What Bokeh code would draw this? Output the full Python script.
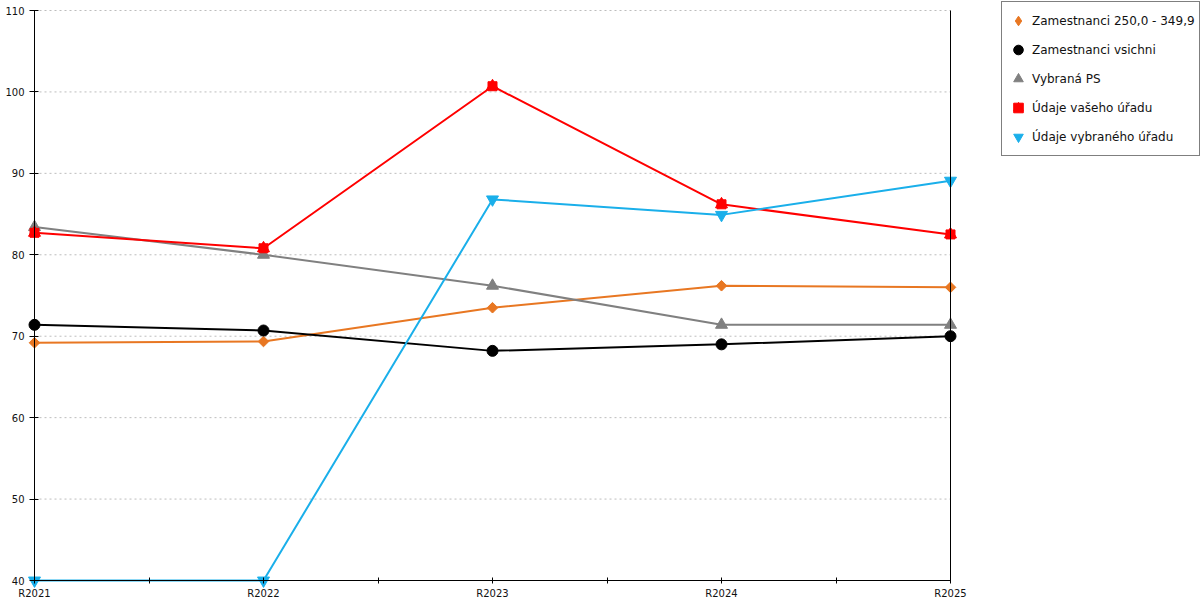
import math
from bokeh.plotting import figure
from bokeh.models import (Range1d, FixedTicker, LinearAxis, Legend, LegendItem,
                          ColumnDataSource)
from bokeh.embed import file_html
from bokeh.resources import INLINE

categories = ["R2021", "R2022", "R2023", "R2024", "R2025"]
zam_250 = [69.2, 69.35, 73.5, 76.2, 76.0]
zam_all = [71.4, 70.7, 68.2, 69.0, 70.0]
vybrana_ps = [83.4, 80.0, 76.2, 71.4, 71.4]
vas_urad = [82.7, 80.8, 100.7, 86.2, 82.5]
vybrany_urad = [40.0, 40.0, 86.8, 84.9, 89.1]

y_ticks = [40, 50, 60, 70, 80, 90, 100, 110]

FONT = "DejaVu Sans"
W, H = 1200, 600
# plot-area placement in pixels (layout only)
X0_PX, X1_PX, YT_PX, YB_PX = 34, 950, 10, 580

n = len(categories)
xs = list(range(n))
ymin, ymax = y_ticks[0], y_ticks[-1]
xscale = (X1_PX - X0_PX) / (n - 1)
yscale = (YB_PX - YT_PX) / (ymax - ymin)
x_range = Range1d(0 - X0_PX / xscale, (n - 1) + (W - X1_PX) / xscale)
y_range = Range1d(ymin - (H - YB_PX) / yscale, ymax + YT_PX / yscale)

p = figure(width=W, height=H, output_backend="svg", toolbar_location=None,
           x_range=x_range, y_range=y_range,
           min_border_left=0, min_border_right=0, min_border_top=0,
           min_border_bottom=0)
p.outline_line_color = None
p.background_fill_color = "white"
p.xgrid.visible = False
p.ygrid.visible = False

# dotted horizontal grid lines between the two vertical axis lines
p.segment(x0=[0] * (len(y_ticks) - 1), x1=[n - 1] * (len(y_ticks) - 1),
          y0=y_ticks[1:], y1=y_ticks[1:], line_color="#BDBDBD",
          line_dash="2 3", line_width=1)

yax = p.yaxis[0]
yax.fixed_location = 0
yax.bounds = (ymin, ymax)
yax.ticker = FixedTicker(ticks=y_ticks)
yax.major_tick_out = 5
yax.major_tick_in = 4
yax.minor_tick_line_color = None
yax.major_label_standoff = 5

xax = p.xaxis[0]
xax.fixed_location = ymin
xax.bounds = (0, n - 1)
xax.ticker = FixedTicker(ticks=xs, minor_ticks=[i + 0.5 for i in xs[:-1]])
xax.major_label_overrides = {i: c for i, c in enumerate(categories)}
xax.major_tick_out = 3
xax.major_tick_in = 3
xax.minor_tick_out = 3
xax.minor_tick_in = 3
xax.minor_tick_line_color = "black"
xax.major_label_standoff = 4

for ax in (xax, yax):
    ax.axis_line_color = "black"
    ax.major_tick_line_color = "black"
    ax.major_label_text_font = FONT
    ax.major_label_text_font_size = "10px"
    ax.major_label_text_color = "#111111"

right = LinearAxis(fixed_location=n - 1, bounds=(ymin, ymax),
                   major_tick_line_color=None, minor_tick_line_color=None,
                   major_label_text_font_size="0px", axis_line_color="black",
                   major_label_text_color=None)
p.add_layout(right, "right")

src = ColumnDataSource(dict(x=xs, a=zam_250, b=zam_all, c=vybrana_ps,
                            d=vas_urad, e=vybrany_urad))

items = []

def series(col, color, markers, label, legend_marker=None):
    p.line("x", col, source=src, line_color=color, line_width=2)
    rs = []
    if legend_marker:
        m, s = legend_marker
        rs.append(p.scatter("x", col, source=src, marker=m, size=s,
                            fill_color=color, line_color=color))
    drawn = []
    for m, s, ang in markers:
        drawn.append(p.scatter("x", col, source=src, marker=m, size=s, angle=ang,
                               fill_color=color, line_color=color))
    items.append(LegendItem(label=label, renderers=rs if rs else drawn))

series("a", "#E87722", [("square", 7.5, math.pi / 4)], "Zamestnanci 250,0 - 349,9",
       legend_marker=("diamond", 9))
series("b", "#000000", [("circle", 11, 0)], "Zamestnanci vsichni")
series("c", "#808080", [("triangle", 12, 0)], "Vybraná PS")
series("d", "#FF0000", [("triangle", 12, 0), ("square", 9, 0)], "Údaje vašeho úřadu")
series("e", "#1AAFEA", [("inverted_triangle", 12, 0)], "Údaje vybraného úřadu")

legend = Legend(items=items, location=(1001, 444), orientation="vertical",
                label_text_font=FONT, label_text_font_size="12px",
                label_text_color="#111111",
                border_line_color="black", border_line_width=1,
                background_fill_color="white", background_fill_alpha=1,
                glyph_width=24, glyph_height=29, label_height=29,
                label_standoff=2, spacing=0, padding=4, margin=0)
p.add_layout(legend, "center")

open("out.html", "w").write(file_html(p, INLINE))
